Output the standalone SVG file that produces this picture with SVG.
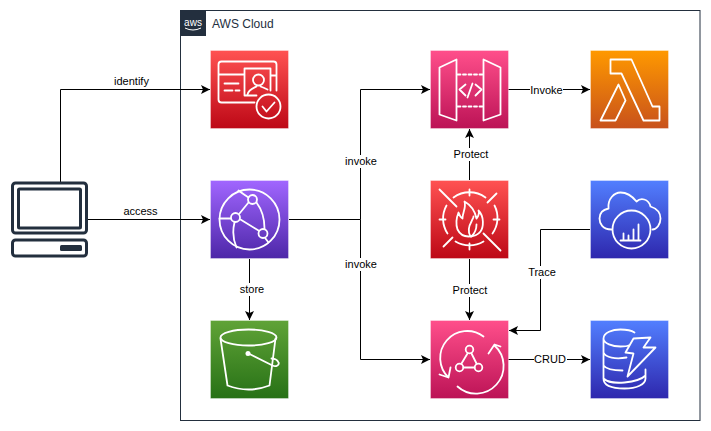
<svg xmlns="http://www.w3.org/2000/svg" width="711" height="431" viewBox="0 0 711 431">
<style>
text{font-family:"Liberation Sans",Arial,sans-serif;font-size:11px;fill:#000;text-anchor:middle}
.bg{stroke:#fff;stroke-opacity:.35;stroke-width:1}
.i{fill:none;stroke:#fff;stroke-width:1.8;stroke-linejoin:round;stroke-linecap:round}
.c{fill:none;stroke:#000;stroke-width:1}
.a{marker-end:url(#arr)}
.l{fill:#fff;stroke:none}
.d{fill:none;stroke:#232F3E;stroke-width:3;stroke-linejoin:round}
</style>
<defs>
<marker id="arr" markerUnits="userSpaceOnUse" markerWidth="11" markerHeight="11" refX="9" refY="4.500" orient="auto"><path d="M0,0 L9,4.500 L0,9 L2,4.500 Z" fill="#000"/></marker>
<linearGradient id="red" x1="0" y1="1" x2="0" y2="0"><stop offset="0" stop-color="#BD0816"/><stop offset="1" stop-color="#FF5252"/></linearGradient>
<linearGradient id="pur" x1="0" y1="1" x2="0" y2="0"><stop offset="0" stop-color="#4D27A8"/><stop offset="1" stop-color="#A166FF"/></linearGradient>
<linearGradient id="pnk" x1="0" y1="1" x2="0" y2="0"><stop offset="0" stop-color="#BC1356"/><stop offset="1" stop-color="#FF4F8B"/></linearGradient>
<linearGradient id="org" x1="0" y1="1" x2="0" y2="0"><stop offset="0" stop-color="#C8511B"/><stop offset="1" stop-color="#FF9900"/></linearGradient>
<linearGradient id="blu" x1="0" y1="1" x2="0" y2="0"><stop offset="0" stop-color="#2E27AD"/><stop offset="1" stop-color="#527FFF"/></linearGradient>
<linearGradient id="grn" x1="0" y1="1" x2="0" y2="0"><stop offset="0" stop-color="#277116"/><stop offset="1" stop-color="#60A337"/></linearGradient>
</defs>
<rect width="711" height="431" fill="#fff"/>
<g id="aws-cloud">
<rect x="180.500" y="10.500" width="519.500" height="410" fill="none" stroke="#232F3E"/>
<rect x="180" y="10" width="26" height="26" fill="#232F3E"/>
<text x="193" y="26" style="font-size:10px;fill:#fff">aws</text>
<path d="M185,28 Q193,32 201,28" fill="none" stroke="#fff" stroke-width="1"/>
<text x="212" y="28" style="font-size:12px;fill:#232F3E;text-anchor:start">AWS Cloud</text>
</g>
<g id="connectors">
<path class="c a" d="M60.500,182 V89.500 H210"/>
<path class="c a" d="M87,219.500 H210"/>
<path class="c a" d="M289,219.500 H360.500 V89.500 H430"/>
<path class="c a" d="M360.500,219.500 V359.500 H430"/>
<path class="c a" d="M249.500,259 V320"/>
<path class="c a" d="M508,89.500 H590"/>
<path class="c a" d="M469.500,180 V129"/>
<path class="c a" d="M469.500,259 V320"/>
<path class="c a" d="M590,229.500 H540.500 V330.500 H509"/>
<path class="c a" d="M508,359.500 H590"/>
<text x="131.500" y="85">identify</text>
<text x="140.500" y="215">access</text>
<rect class="l" x="344" y="155" width="34" height="13"/><text x="361" y="165">invoke</text>
<rect class="l" x="344" y="258" width="34" height="13"/><text x="361" y="268">invoke</text>
<rect class="l" x="452" y="148" width="38" height="13"/><text x="471" y="158">Protect</text>
<rect class="l" x="451" y="284" width="38" height="13"/><text x="470" y="294">Protect</text>
<rect class="l" x="530" y="84" width="33" height="13"/><text x="546.500" y="94">Invoke</text>
<rect class="l" x="527" y="266" width="31" height="13"/><text x="542" y="276">Trace</text>
<rect class="l" x="534" y="353" width="33" height="13"/><text x="550" y="363">CRUD</text>
<rect class="l" x="238" y="283" width="28" height="13"/><text x="252" y="293">store</text>
</g>
<g id="client">
<rect class="d" x="12.500" y="183" width="74" height="50" rx="3"/>
<rect class="d" x="18.500" y="189" width="62" height="39" rx="1"/>
<rect class="d" x="12.500" y="240" width="74" height="16" rx="3"/>
<rect x="60" y="245" width="22" height="6" rx="1.500" fill="#232F3E"/>
</g>
<g id="cognito" transform="translate(210.500,50.500)">
<rect class="bg" width="78" height="78" fill="url(#red)"/>
<path class="i" d="M44,52 H11 Q8,52 8,49 V14 Q8,11 11,11 H63 Q66,11 66,14 V40 M8,24 H34 M60,25 H66 M34,45 V18 H60 V40 M34,45 H46 M14,33 H28 M14,40 H22 M25,40 H29"/>
<circle class="i" cx="48" cy="29.500" r="5.500"/>
<path class="i" d="M37,44 C38,39 42,38 46,36 M50,36 C53,37 55,38 57,39"/>
<circle class="i" cx="58" cy="56" r="12"/>
<path class="i" d="M52,56 L56,61 L64,52"/>
</g>
<g id="cloudfront" transform="translate(210.500,180.500)">
<rect class="bg" width="78" height="78" fill="url(#pur)"/>
<circle class="i" cx="39" cy="39" r="30"/>
<circle class="i" cx="42" cy="19" r="4.500"/>
<circle class="i" cx="25" cy="37" r="4.500"/>
<circle class="i" cx="52.500" cy="53" r="4.500"/>
<path class="i" d="M38,22 L29,33 M30,39 L48,50 M46,22 C52,30 54,38 54,48 M24,42 C22,50 23,60 26,67 M9,38 H20 M28,10 C32,13 35,15 38,17 M58,62 L55,58"/>
</g>
<g id="s3" transform="translate(210.500,320.500)">
<rect class="bg" width="78" height="78" fill="url(#grn)"/>
<ellipse class="i" cx="38" cy="17" rx="28" ry="8"/>
<path class="i" d="M10,18 L17,65 Q38,73 59,65 L65,18"/>
<circle cx="37.500" cy="33" r="2.500" fill="#fff"/>
<path class="i" d="M38,33 L62,45 C66,47 69,44 68,42 C67,39 63,38 61,38"/>
</g>
<g id="api-gateway" transform="translate(430.500,50.500)">
<rect class="bg" width="78" height="78" fill="url(#pnk)"/>
<path class="i" d="M9,17 L26,9 V70 L9,64 Z M53,9 L70,17 V64 L53,70 Z"/>
<path class="i" d="M27,24 H52 M27,56 H52" stroke-dasharray="3 2.500" stroke-linecap="butt"/>
<path class="i" d="M35,34 L29,39 L35,45 M45,34 L51,39 L45,45 M42,33 L37,47"/>
</g>
<g id="lambda" transform="translate(590.500,50.500)">
<rect class="bg" width="78" height="78" fill="url(#org)"/>
<path class="i" d="M20,9 H41 L62,56 H69 V70 H53 L31,23 H20 Z M28,34 L35,50 L25,70 H10 Z"/>
</g>
<g id="waf" transform="translate(430.500,180.500)">
<rect class="bg" width="78" height="78" fill="url(#red)"/>
<path class="i" d="M9,9 L26,26 M53,53 L70,70 M66,13 L57,22 M13,66 L22,57 M39,9 V15 M39,63 V69 M9,39 H15 M63,39 H69"/>
<path class="i" d="M23,17 A27,27 0 0 1 55,17 M64,25 A27,27 0 0 1 62,53 M53,61 A27,27 0 0 1 25,61 M17,53 A27,27 0 0 1 16,25"/>
<path class="i" d="M34,21 C43,26 45,33 46,38 C48,36 49,32 48,30 C54,36 53,47 50,51 C47,55 43,56 38,56 C33,56 29,53 27,49 C25,43 26,37 28,32 C29,35 30,37 32,38 C32,32 36,27 34,21 Z"/>
<path class="i" d="M40,56 C37,51 38,46 41,41 C42,38 43,38 43,36 M41,56 C45,52 46,48 46,44"/>
</g>
<g id="xray" transform="translate(590.500,180.500)">
<rect class="bg" width="78" height="78" fill="url(#blu)"/>
<path class="i" d="M21,49 C12,49 9,43 9,38 C9,32 13,29 18,28 C17,18 24,12 30,12 C37,12 42,16 46,21 C50,17 58,18 60,26 C66,28 70,32 70,38 C70,44 66,49 62,49"/>
<circle class="i" cx="41" cy="49" r="19"/>
<path class="i" d="M30,60 H50 M33,60 V53 M38,60 V55 M43,60 V49 M48,60 V44" stroke-width="1.400"/>
</g>
<g id="appsync" transform="translate(430.500,320.500)">
<rect class="bg" width="78" height="78" fill="url(#pnk)"/>
<path class="i" d="M53,16 A27,27 0 0 0 18,57 M9,54 L18,57 L20,47"/>
<path class="i" d="M27,66 A27,27 0 0 0 64,25 M58,33 L64,24 L70,26"/>
<circle class="i" cx="39" cy="29" r="3.800"/>
<circle class="i" cx="29" cy="47" r="3.800"/>
<circle class="i" cx="48" cy="47" r="3.800"/>
<path class="i" d="M37,33 L31,43 M41,33 L46,43 M33,47 H44"/>
</g>
<g id="dynamodb" transform="translate(590.500,320.500)">
<rect class="bg" width="78" height="78" fill="url(#blu)"/>
<path class="i" d="M13,18 C13,12 22,9 30,9 C36,9 41,10 44,12 M13,18 C13,23 22,26 30,26 C33,26 36,26 38,25 M13,18 V58 C13,65 22,68 34,68 C46,68 55,64 55,58 V49 M13,32 C15,37 25,39 36,37 M13,45 C16,49 24,50 32,50 M13,58 C16,61 24,63 34,62 C44,61 52,58 55,55"/>
<path class="i" d="M43,18 L60,17 L53,27 L65,27 L37,56 L43,33 L35,32 Z"/>
</g>
</svg>
